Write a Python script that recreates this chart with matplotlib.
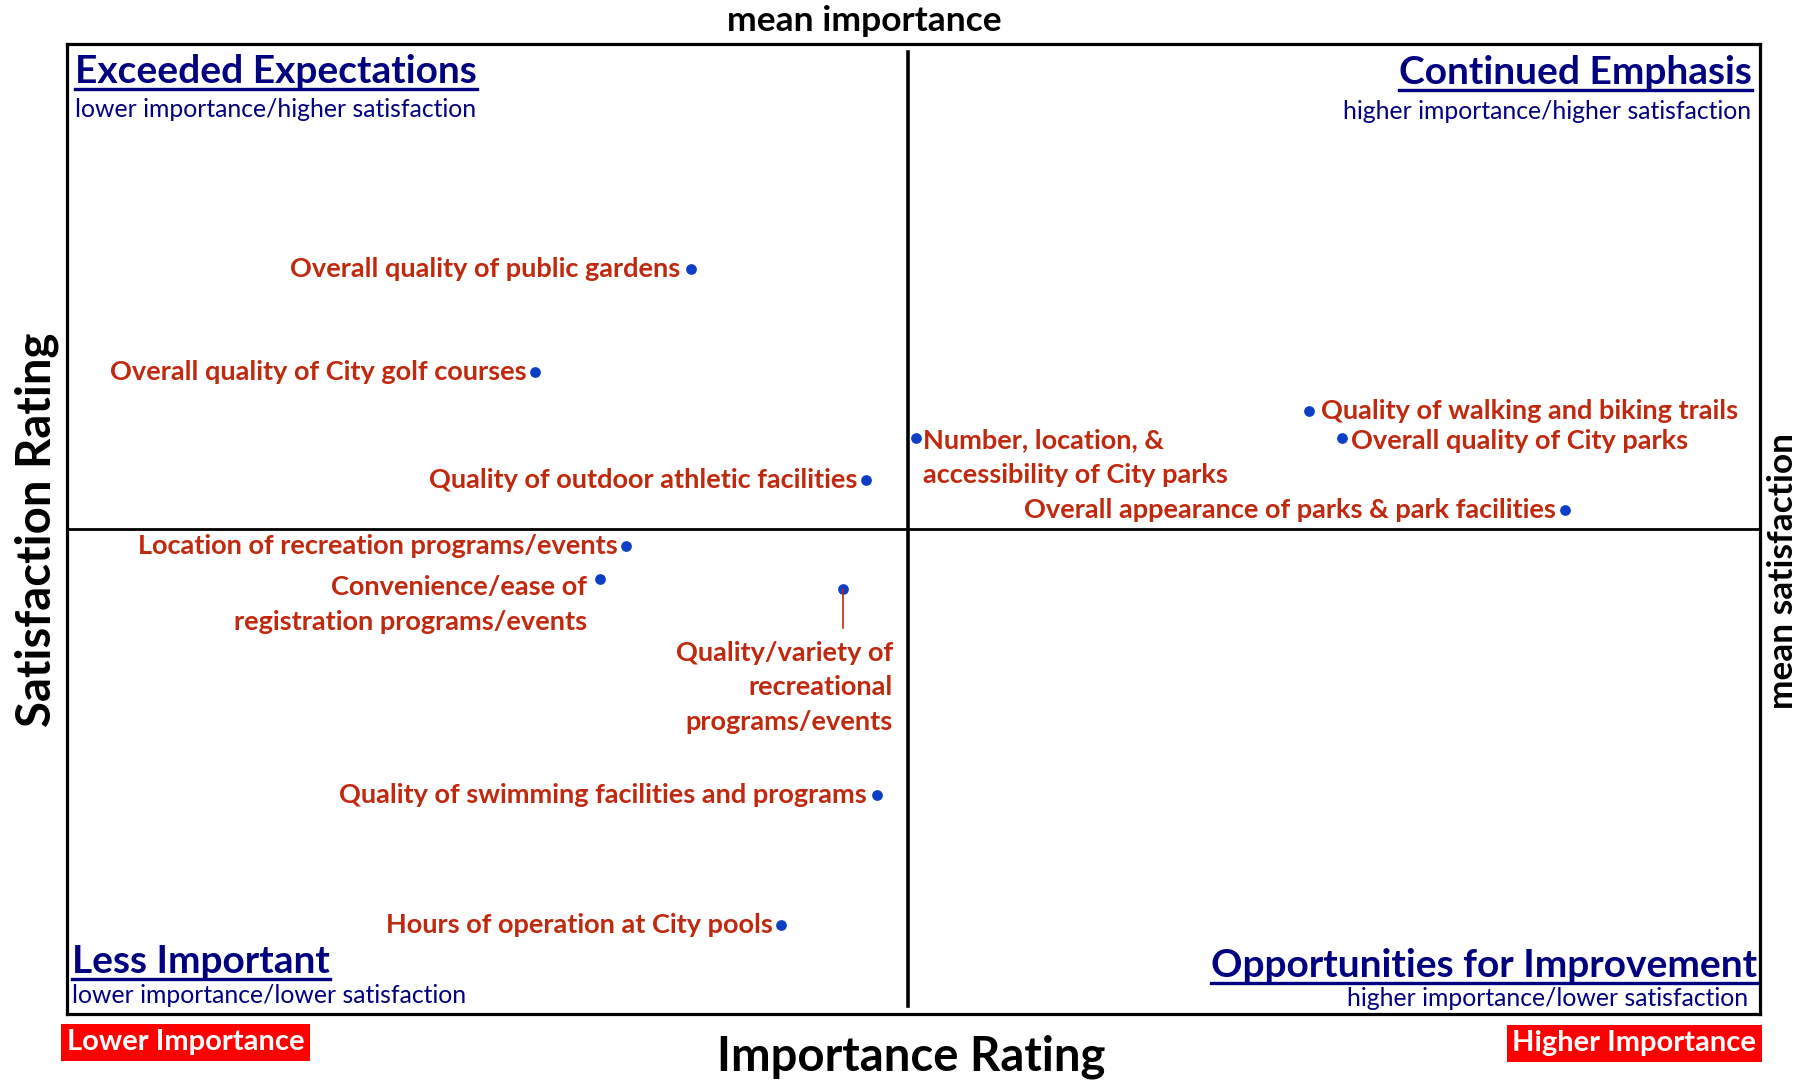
import matplotlib
matplotlib.use("Agg")
import matplotlib.pyplot as plt
from matplotlib.lines import Line2D

plt.rcParams['font.family'] = ['Lato', 'DejaVu Sans']

# importance (%) vs satisfaction (%)
items = [
    "Overall quality of public gardens",
    "Overall quality of City golf courses",
    "Quality of outdoor athletic facilities",
    "Location of recreation programs/events",
    "Convenience/ease of\nregistration programs/events",
    "Quality/variety of\nrecreational\nprograms/events",
    "Quality of swimming facilities and programs",
    "Hours of operation at City pools",
    "Number, location, &\naccessibility of City parks",
    "Quality of walking and biking trails",
    "Overall quality of City parks",
    "Overall appearance of parks & park facilities",
]
importance = [22.1, 16.6, 28.3, 19.8, 18.9, 27.5, 28.7, 25.3, 30.1, 44.0, 45.2, 53.1]
satisfaction = [78.4, 73.1, 67.5, 64.1, 62.4, 61.9, 51.3, 44.6, 69.7, 71.1, 69.7, 66.0]
mean_importance = 29.8
mean_satisfaction = 65.0

# label placement: (dx px, dy px, ha)
label_pos = [
    (-10, 0, "right"), (-9, 0, "right"), (-8, 0, "right"), (-8, 0, "right"),
    (-13, -25, "right"), (50, -98, "right"), (-10, 0, "right"), (-8, 0, "right"),
    (7, -20, "left"), (12, 0, "left"), (9, -3, "left"), (-9, 0, "right"),
]
leader_item = 5

navy = "#000080"
red_txt = "#C0290E"
dot_blue = "#0D3FC6"

fig = plt.figure(figsize=(18.16, 10.81), dpi=100)
ax = fig.add_axes([0.0369, 0.0620, 0.9323, 0.8973])
ax.set_xlim(0, 60)
ax.set_ylim(40, 90)
ax.set_xticks([])
ax.set_yticks([])
for s in ax.spines.values():
    s.set_linewidth(2.3)

ax.axvline(mean_importance, ymin=0.008, ymax=0.992, color="black", lw=2.6)
ax.axhline(mean_satisfaction, color="black", lw=2.0)

ax.scatter(importance, satisfaction, s=45, color=dot_blue, zorder=3)

for i, name in enumerate(items):
    dx, dy, ha = label_pos[i]
    ax.annotate(name, (importance[i], satisfaction[i]), xytext=(dx, dy),
                textcoords="offset pixels", ha=ha, va="center",
                color=red_txt, fontsize=19.5, fontweight="bold",
                linespacing=1.52)

# leader line for the label placed below its point
ax.annotate("", (importance[leader_item], satisfaction[leader_item]),
            xytext=(0, -39), textcoords="offset pixels",
            arrowprops=dict(arrowstyle="-", color=red_txt, lw=1.2,
                            shrinkA=0, shrinkB=0))

# quadrant titles
titles = []
quad = [
    ("Exceeded Expectations", "lower importance/higher satisfaction", 0.005, 0.972, 0.932, "left"),
    ("Continued Emphasis", "higher importance/higher satisfaction", 0.995, 0.971, 0.930, "right"),
    ("Less Important", "lower importance/lower satisfaction", 0.003, 0.054, 0.019, "left"),
    ("Opportunities for Improvement", "higher importance/lower satisfaction", 0.998, 0.050, 0.016, "right"),
]
for head, sub, x, y_head, y_sub, ha in quad:
    t = ax.text(x, y_head, head, transform=ax.transAxes, ha=ha, va="center",
                color=navy, fontsize=28, fontweight="bold")
    titles.append(t)
    xs = x - 0.005 if head.startswith("Opp") else x
    ax.text(xs, y_sub, sub, transform=ax.transAxes, ha=ha, va="center",
            color=navy, fontsize=17.8)

fig.text(0.476, 0.981, "mean importance", ha="center", va="center",
         fontsize=25.5, fontweight="bold")
fig.text(0.0204, 0.510, "Satisfaction Rating", ha="center", va="center",
         rotation=90, fontsize=34, fontweight="bold")
fig.text(0.982, 0.472, "mean satisfaction", ha="center", va="center",
         rotation=90, fontsize=25.4, fontweight="bold")
fig.text(0.502, 0.022, "Importance Rating", ha="center", va="center",
         fontsize=34, fontweight="bold")

fig.text(0.0368, 0.036, "Lower Importance", ha="left", va="center",
         color="white", fontsize=21, fontweight="bold",
         bbox=dict(facecolor="#FF0000", edgecolor="none", pad=4))
fig.text(0.967, 0.035, "Higher Importance", ha="right", va="center",
         color="white", fontsize=21, fontweight="bold",
         bbox=dict(facecolor="#FF0000", edgecolor="none", pad=4))

# underline quadrant titles
fig.canvas.draw()
r = fig.canvas.get_renderer()
W, H = fig.bbox.width, fig.bbox.height
for t in titles:
    bb = t.get_window_extent(r)
    y = bb.y0
    fig.add_artist(Line2D([bb.x0 / W, bb.x1 / W], [y / H, y / H],
                          transform=fig.transFigure, color=navy, lw=2.4))

fig.savefig("out.png", dpi=100)
